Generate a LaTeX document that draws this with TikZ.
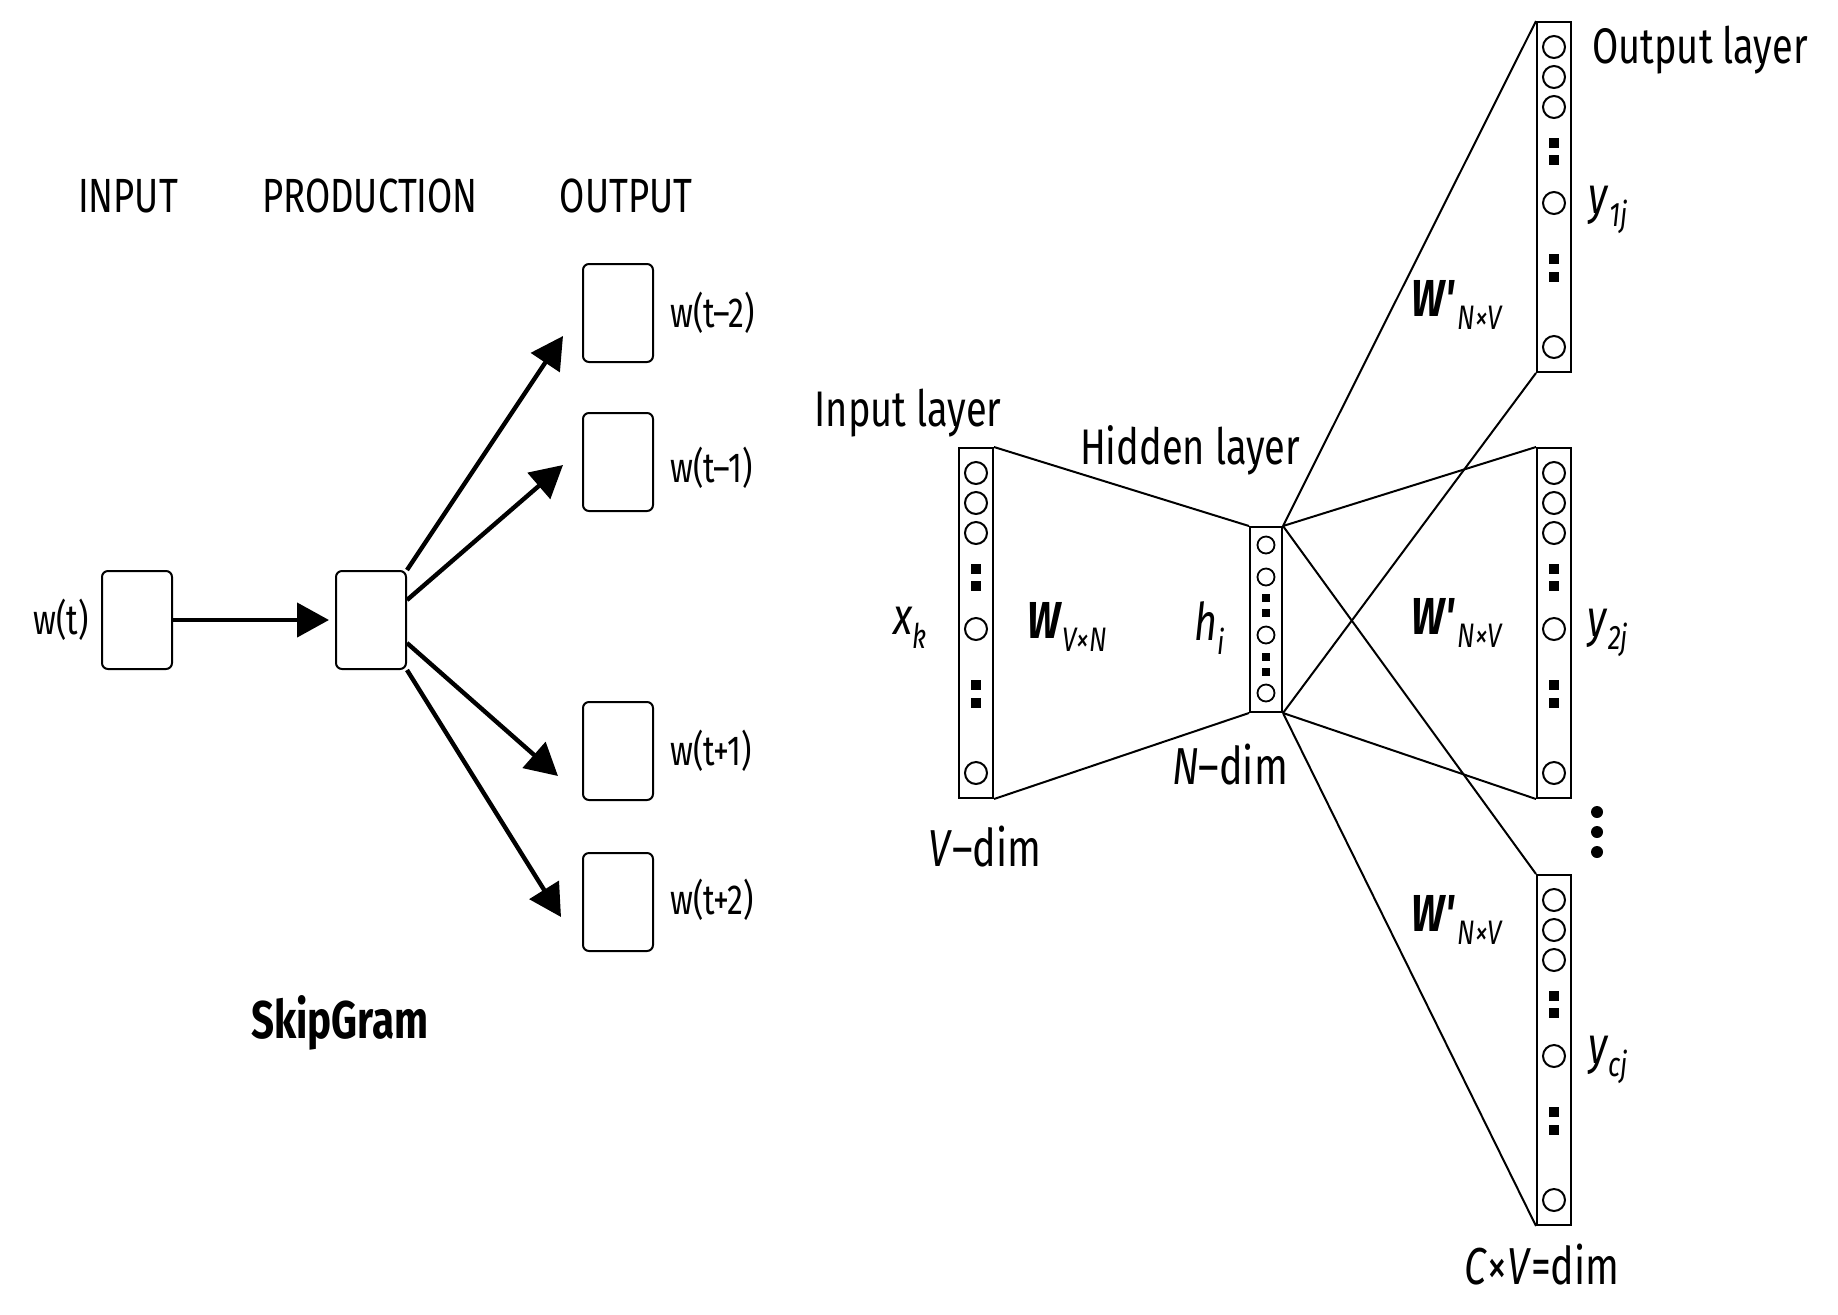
\documentclass[tikz,border=0pt]{standalone}
\usepackage{fontspec}
\setmainfont{Fira Sans}[FakeStretch=0.76]
\usepackage{tikz}
\usetikzlibrary{arrows.meta,positioning}

\newcommand{\lowsub}[1]{\raisebox{-0.5ex}{\fontsize{17}{17}\selectfont\itshape #1}}

\tikzset{
  head/.style={font=\fontsize{24}{28}\selectfont, inner sep=0pt},
  word/.style={font=\fontsize{21}{24}\selectfont, inner sep=0pt},
  layername/.style={font=\fontsize{25}{30}\selectfont, inner sep=0pt},
  sym/.style={font=\fontsize{26}{30}\selectfont, inner sep=0pt},
  wordbox/.style={draw, line width=1pt, rounded corners=3pt, minimum width=35pt, minimum height=49pt, inner sep=0pt},
  flow/.style={line width=2.2pt, -{Triangle[length=16pt,width=17pt]}},
  layerbox/.style={draw, line width=1pt, minimum width=17pt, minimum height=175pt, inner sep=0pt},
  hidbox/.style={draw, line width=1pt, minimum width=16pt, minimum height=92.5pt, inner sep=0pt},
  unit/.style={draw, circle, line width=1pt, minimum size=11pt, inner sep=0pt},
  smallunit/.style={draw, circle, line width=0.9pt, minimum size=8.5pt, inner sep=0pt},
  gap/.style={fill=black, minimum size=4.8pt, inner sep=0pt},
  smallgap/.style={fill=black, minimum size=4pt, inner sep=0pt},
  link/.style={line width=1pt}
}

% one column of units: name, centre x, top y
\newcommand{\netlayer}[3]{%
  \node[layerbox] (#1) at ({#2},{#3+175}) {};
  \foreach \dy in {25,55,85,181,325}
    \node[unit] (#1-u\dy) at ({#2},{#3+\dy}) {};
  \foreach \dy in {121,138,237,255}
    \node[gap] (#1-g\dy) at ({#2},{#3+\dy}) {};
}

\begin{document}
\begin{tikzpicture}[x=0.5pt, y=-0.5pt]
  \useasboundingbox (0,0) rectangle (1838,1314);

  % skip-gram sketch
  \node[head] (inp) at (128,196) {INPUT};
  \node[head] (prod) at (370,196) {PRODUCTION};
  \node[head] (outp) at (626,196) {OUTPUT};

  \node[wordbox] (wt) at (137,620) {};
  \node[wordbox] (pr) at (371,620) {};
  \node[wordbox] (om2) at (618,313) {};
  \node[wordbox] (om1) at (618,462) {};
  \node[wordbox] (op1) at (618,751) {};
  \node[wordbox] (op2) at (618,902) {};

  \node[word, left=6pt of wt] (lwt) {w(t)};
  \node[word, right=8pt of om2] (lom2) {w(t–2)};
  \node[word, right=8pt of om1, yshift=-3pt] (lom1) {w(t–1)};
  \node[word, right=8pt of op1] (lop1) {w(t+1)};
  \node[word, right=8pt of op2, yshift=1pt] (lop2) {w(t+2)};

  \coordinate (em2) at (563,336);
  \coordinate (em1) at (563,465);
  \coordinate (ep1) at (558,776);
  \coordinate (ep2) at (561,917);

  \draw[flow] (wt.east) -- ([xshift=-3pt]pr.west);
  \draw[flow] (pr.north east) -- (em2);
  \draw[flow] ([yshift=10pt]pr.east) -- (em1);
  \draw[flow] ([yshift=-11.5pt]pr.east) -- (ep1);
  \draw[flow] (pr.south east) -- (ep2);

  \node[font=\fontsize{26.5}{30}\selectfont\bfseries, inner sep=0pt] (title) at (340,1023) {SkipGram};

  % network
  \netlayer{in}{976}{448}
  \netlayer{o1}{1554}{22}
  \netlayer{o2}{1554}{448}
  \netlayer{o3}{1554}{875}

  \node[hidbox] (hid) at (1266,619.5) {};
  \foreach \dy in {18,50,108,166}
    \node[smallunit] (hid-u\dy) at (1266,{527+\dy}) {};
  \foreach \dy in {71,86,130,145}
    \node[smallgap] (hid-g\dy) at (1266,{527+\dy}) {};

  \draw[link] (in.north east) -- (hid.north west);
  \draw[link] (in.south east) -- (hid.south west);
  \foreach \o in {o1,o2,o3} {
    \draw[link] (hid.north east) -- (\o.north west);
    \draw[link] (hid.south east) -- (\o.south west);
  }

  \node[layername] (linp) at (908,413) {Input layer};
  \node[layername] (lhid) at (1190,450) {Hidden layer};
  \node[layername] (lout) at (1700,50) {Output layer};

  \node[sym] (xk) at (910,628) {\textit{x}\lowsub{k}};
  \node[sym] (wvn) at (1067,627) {\textbf{\textit{W}}\lowsub{V×N}};
  \node[sym] (hi) at (1210,628) {\textit{h}\lowsub{i}};
  \node[sym] (ndim) at (1230,765) {\textit{N}–dim};
  \node[sym] (vdim) at (985,847) {\textit{V}–dim};

  \node[sym] (w1) at (1457,305) {\textbf{\textit{W\textquotesingle}}\lowsub{N×V}};
  \node[sym] (w2) at (1457,623) {\textbf{\textit{W\textquotesingle}}\lowsub{N×V}};
  \node[sym] (w3) at (1457,920) {\textbf{\textit{W\textquotesingle}}\lowsub{N×V}};

  \node[sym] (y1) at (1608,210) {\textit{y}\lowsub{1j}};
  \node[sym] (y2) at (1608,633) {\textit{y}\lowsub{2j}};
  \node[sym] (yc) at (1608,1060) {\textit{y}\lowsub{cj}};
  \node[sym] (cvd) at (1542,1265) {\textit{C}×\textit{V}=dim};

  \foreach \dy in {812,832,852}
    \fill (1597,\dy) circle (3pt);
\end{tikzpicture}
\end{document}
